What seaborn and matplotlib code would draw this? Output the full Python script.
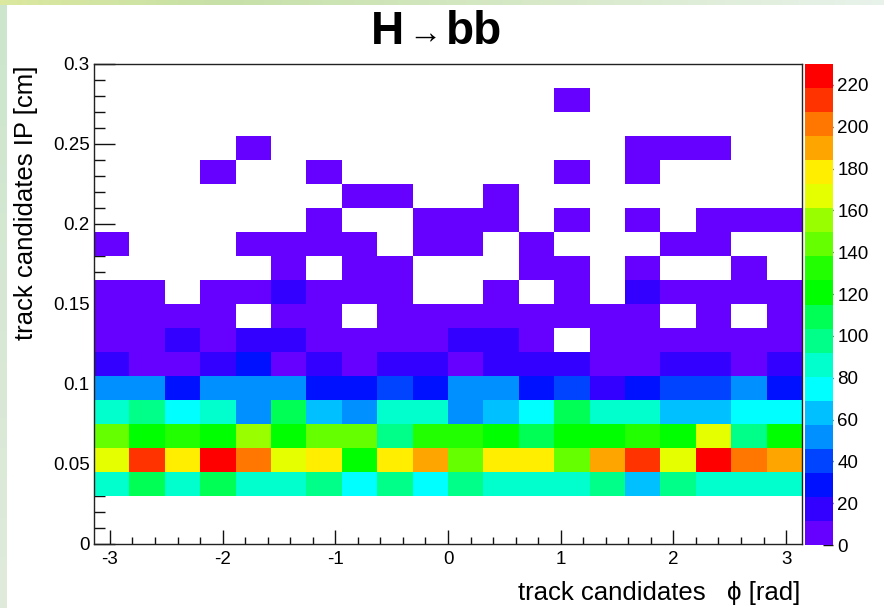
import numpy as np
import pandas as pd
import matplotlib
matplotlib.use("Agg")
import matplotlib.pyplot as plt
from matplotlib.colors import ListedColormap
from matplotlib.ticker import MultipleLocator, FuncFormatter
import seaborn as sns

# ---- histogram definition -------------------------------------------------
n_phi_bins = 20
n_ip_bins = 20
phi_range = (-np.pi, np.pi)
ip_range = (0.0, 0.3)

# Bin contents, one list per IP slice (0.015 cm wide), phi bins from -pi to +pi
ip_000_015 = [0] * 20
ip_015_030 = [0] * 20
ip_030_045 = [86, 109, 86, 109, 86, 86, 98, 75, 98, 75, 98, 86, 86, 86, 98, 63, 98, 86, 86, 86]
ip_045_060 = [167, 213, 178, 230, 201, 167, 178, 121, 178, 190, 144, 178, 178, 144, 190, 213, 167, 226, 201, 190]
ip_060_075 = [144, 121, 132, 121, 155, 121, 144, 144, 98, 132, 132, 121, 109, 121, 121, 132, 121, 167, 98, 121]
ip_075_090 = [86, 98, 75, 86, 52, 109, 63, 52, 86, 86, 52, 63, 75, 109, 86, 86, 63, 63, 75, 75]
ip_090_105 = [52, 52, 29, 52, 52, 52, 29, 29, 40, 29, 52, 52, 29, 40, 17, 29, 40, 40, 52, 29]
ip_105_120 = [17, 8, 9, 17, 29, 9, 17, 9, 17, 17, 10, 17, 17, 17, 9, 8, 17, 17, 9, 17]
ip_120_135 = [7, 9, 15, 8, 14, 13, 9, 8, 7, 9, 13, 14, 6, 0, 8, 7, 9, 8, 6, 9]
ip_135_150 = [6, 5, 4, 6, 0, 5, 7, 0, 5, 6, 4, 6, 5, 7, 4, 6, 0, 3, 0, 5]
ip_150_165 = [4, 3, 0, 3, 5, 12, 4, 3, 4, 0, 0, 3, 0, 4, 0, 12, 5, 3, 4, 3]
ip_165_180 = [0, 0, 0, 0, 0, 2, 0, 2, 1, 0, 0, 0, 2, 1, 0, 3, 0, 0, 2, 0]
ip_180_195 = [2, 0, 0, 0, 1, 2, 3, 1, 0, 2, 1, 0, 2, 0, 0, 0, 1, 2, 0, 0]
ip_195_210 = [0, 0, 0, 0, 0, 0, 1, 0, 0, 1, 2, 1, 0, 1, 0, 1, 0, 1, 2, 1]
ip_210_225 = [0, 0, 0, 0, 0, 0, 0, 1, 1, 0, 0, 1, 0, 0, 0, 0, 0, 0, 0, 0]
ip_225_240 = [0, 0, 0, 1, 0, 0, 1, 0, 0, 0, 0, 0, 0, 1, 0, 1, 0, 0, 0, 0]
ip_240_255 = [0, 0, 0, 0, 1, 0, 0, 0, 0, 0, 0, 0, 0, 0, 0, 1, 1, 1, 0, 0]
ip_255_270 = [0] * 20
ip_270_285 = [0, 0, 0, 0, 0, 0, 0, 0, 0, 0, 0, 0, 0, 1, 0, 0, 0, 0, 0, 0]
ip_285_300 = [0] * 20

ip_slices = [ip_000_015, ip_015_030, ip_030_045, ip_045_060, ip_060_075,
             ip_075_090, ip_090_105, ip_105_120, ip_120_135, ip_135_150,
             ip_150_165, ip_165_180, ip_180_195, ip_195_210, ip_210_225,
             ip_225_240, ip_240_255, ip_255_270, ip_270_285, ip_285_300]

# 20-step rainbow palette (violet -> red)
palette_colors = ["#6600ff", "#3300ff", "#0011ff", "#0044ff", "#0090ff",
                  "#00c0ff", "#00ffff", "#00ffcc", "#00ff88", "#00ff55",
                  "#00ff00", "#22ff00", "#66ff00", "#99ff00", "#e5ff00",
                  "#ffee00", "#ffa500", "#ff7700", "#ff3300", "#ff0000"]
z_ticks = list(range(0, 221, 20))

# ---- long-form table of weighted entries ----------------------------------
phi_edges = np.linspace(phi_range[0], phi_range[1], n_phi_bins + 1)
ip_edges = np.linspace(ip_range[0], ip_range[1], n_ip_bins + 1)
phi_centers = 0.5 * (phi_edges[:-1] + phi_edges[1:])
ip_centers = 0.5 * (ip_edges[:-1] + ip_edges[1:])

records = []
for j, row in enumerate(ip_slices):
    for i, c in enumerate(row):
        records.append((phi_centers[i], ip_centers[j], c))
df = pd.DataFrame(records, columns=["phi", "ip", "entries"])
z_max = df["entries"].max()

# ---- figure ----------------------------------------------------------------
sns.set_style("white")
plt.rcParams["font.family"] = ["Liberation Sans", "DejaVu Sans"]
plt.rcParams["axes.unicode_minus"] = False
plt.rcParams["text.color"] = "black"
plt.rcParams["xtick.color"] = "black"
plt.rcParams["ytick.color"] = "black"

W, H = 884, 608
fig = plt.figure(figsize=(W / 100, H / 100), dpi=100)
fig.patch.set_facecolor("white")

# pale slide background peeking out along the top and left borders
bg = fig.add_axes([0, 0, 1, 1], zorder=-10)
bg.set_axis_off()
gx = np.linspace(0, 1, 200)
top_strip = np.zeros((2, 200, 3))
c_left = np.array([0.86, 0.91, 0.62])
c_mid = np.array([0.78, 0.88, 0.66])
c_right = np.array([0.91, 0.95, 0.92])
for k, t in enumerate(gx):
    if t < 0.25:
        col = c_left + (c_mid - c_left) * (t / 0.25)
    else:
        col = c_mid + (c_right - c_mid) * ((t - 0.25) / 0.75)
    top_strip[:, k] = col
bg.imshow(top_strip, extent=[0, W, H - 5, H], aspect="auto")
left_strip = np.zeros((200, 2, 3))
for k, t in enumerate(gx):
    left_strip[k, :] = np.array([0.80, 0.90, 0.80]) + np.array([0.08, 0.02, 0.06]) * t
bg.imshow(left_strip, extent=[0, 7, 0, H - 5], aspect="auto")
bg.set_xlim(0, W)
bg.set_ylim(0, H)

ax = fig.add_axes([94 / W, 1 - 544 / H, 708 / W, 480 / H])
cax = fig.add_axes([805 / W, 1 - 545 / H, 28 / W, 481 / H])

sns.histplot(data=df, x="phi", y="ip", weights="entries",
             bins=(phi_edges, ip_edges), stat="count",
             cmap=ListedColormap(palette_colors), vmin=0, vmax=z_max,
             cbar=True, cbar_ax=cax, cbar_kws={"ticks": z_ticks}, ax=ax)

ax.set_xlim(*phi_range)
ax.set_ylim(*ip_range)
ax.set_facecolor("white")

for s in ax.spines.values():
    s.set_visible(True)
    s.set_color("#222222")
    s.set_linewidth(1.0)

ax.xaxis.set_major_locator(MultipleLocator(1))
ax.xaxis.set_minor_locator(MultipleLocator(0.2))
ax.yaxis.set_major_locator(MultipleLocator(0.05))
ax.yaxis.set_minor_locator(MultipleLocator(0.01))
ax.yaxis.set_major_formatter(FuncFormatter(lambda v, p: "%g" % round(v, 3)))
ax.xaxis.set_major_formatter(FuncFormatter(lambda v, p: "%d" % round(v)))

ax.tick_params(axis="both", which="both", direction="in", color="#111111",
               bottom=True, left=True, top=False, right=False,
               labelsize=13.5, width=1.0, labelcolor="black")
ax.tick_params(axis="x", which="major", length=10, pad=5)
ax.tick_params(axis="x", which="minor", length=5)
ax.tick_params(axis="y", which="major", length=15, pad=3)
ax.tick_params(axis="y", which="minor", length=8)

ax.set_xlabel("")
ax.set_ylabel("")
fig.text(800 / W, 1 - 600 / H, "track candidates   \u03d5 [rad]",
         ha="right", va="baseline", fontsize=18.5, color="black")
fig.text(26 / W, 1 - 65 / H, "track candidates IP [cm]", rotation=90,
         ha="center", va="top", fontsize=18.5, color="black")

# palette axis
cbar = ax.collections[0].colorbar
cbar.outline.set_visible(False)
cax.yaxis.set_ticks_position("right")
cax.tick_params(axis="y", which="major", direction="in", length=7, width=1.0,
                right=True, color="#111111", labelsize=13.5, pad=3,
                labelcolor="black")
cax.tick_params(axis="y", which="minor", length=0)

# title H -> bb
ty = 1 - 44 / H
fig.text(404 / W, ty, "H", ha="right", va="baseline", fontsize=33,
         fontweight="bold", color="black")
fig.text(425 / W, 1 - 31 / H, "\u2192", ha="center", va="center_baseline",
         fontsize=24, color="black")
fig.text(446 / W, ty, "bb", ha="left", va="baseline", fontsize=33,
         fontweight="bold", color="black")

fig.savefig("out.png", dpi=100, facecolor=fig.get_facecolor())
